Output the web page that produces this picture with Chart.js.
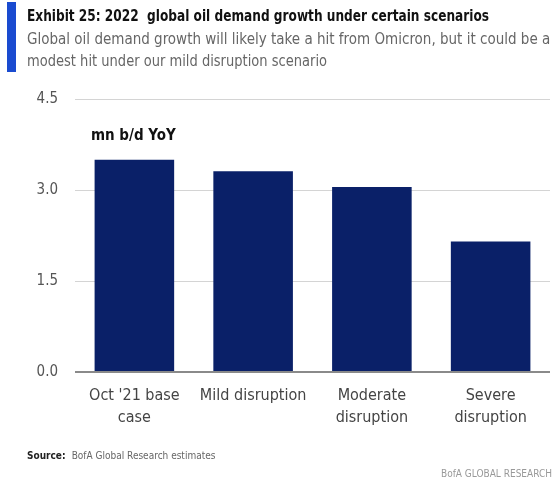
<!DOCTYPE html>
<html>
<head>
<meta charset="utf-8">
<script src="https://cdn.jsdelivr.net/npm/chart.js@4.4.1/dist/chart.umd.min.js"></script>
<style>
  html, body { margin: 0; padding: 0; background: #fff; }
  #wrap { position: relative; width: 560px; height: 483px; }
</style>
</head>
<body>
<div id="wrap"><canvas id="demand-chart" width="560" height="483"></canvas></div>
<script>
// 2022 global oil demand growth by scenario (mn b/d YoY)
const scenarios = [["Oct '21 base", 'case'], 'Mild disruption', ['Moderate', 'disruption'], ['Severe', 'disruption']];
const demandGrowth = [3.5, 3.31, 3.05, 2.15];
const yTicks = [0, 1.5, 3.0, 4.5];

const FONT = "'Liberation Sans Narrow', 'DejaVu Sans Condensed', 'Liberation Sans', sans-serif";

// header, unit label and footer drawn straight on the canvas
const decorations = {
  id: 'decorations',
  afterDraw(chart) {
    const ctx = chart.ctx;
    ctx.save();
    ctx.fillStyle = '#1a4bd0';
    ctx.fillRect(7, 2, 9, 70);

    ctx.textBaseline = 'alphabetic';
    ctx.textAlign = 'left';
    ctx.fillStyle = '#111';
    ctx.font = `bold 15px ${FONT}`;
    ctx.fillText('Exhibit 25: 2022  global oil demand growth under certain scenarios', 27, 21, 462);

    ctx.fillStyle = '#666';
    ctx.font = `15px ${FONT}`;
    ctx.fillText('Global oil demand growth will likely take a hit from Omicron, but it could be a', 27, 44, 527);
    ctx.fillText('modest hit under our mild disruption scenario', 27, 66, 300);

    ctx.fillStyle = '#111';
    ctx.font = `bold 15px ${FONT}`;
    ctx.fillText('mn b/d YoY', 91, 140);

    ctx.font = `bold 10px ${FONT}`;
    ctx.fillStyle = '#222';
    ctx.fillText('Source:', 27, 459);
    const w = ctx.measureText('Source: ').width;
    ctx.font = `10px ${FONT}`;
    ctx.fillStyle = '#666';
    ctx.fillText('BofA Global Research estimates', 27 + w + 3, 459);

    ctx.textAlign = 'right';
    ctx.fillStyle = '#999';
    ctx.fillText('BofA GLOBAL RESEARCH', 552, 477);
    ctx.restore();
  }
};

new Chart(document.getElementById('demand-chart'), {
  type: 'bar',
  data: {
    labels: scenarios,
    datasets: [{
      data: demandGrowth,
      backgroundColor: '#0a2068',
      borderWidth: 0,
      barPercentage: 0.67,
      categoryPercentage: 1,
    }],
  },
  options: {
    responsive: false,
    animation: false,
    layout: { padding: { top: 99, right: 10, left: 0, bottom: 0 } },
    plugins: {
      legend: { display: false },
      tooltip: { enabled: false },
    },
    scales: {
      x: {
        afterFit: s => { s.height = 111; },
        grid: { display: false, drawTicks: false },
        border: { display: false },
        ticks: {
          padding: 13,
          color: '#444',
          font: { family: FONT, size: 16, lineHeight: 1.38 },
          maxRotation: 0,
          autoSkip: false,
        },
      },
      y: {
        min: 0,
        max: 4.5,
        afterFit: s => { s.width = 75; },
        afterBuildTicks: s => { s.ticks = yTicks.map(v => ({ value: v })); },
        grid: {
          drawTicks: false,
          color: c => (c.tick && c.tick.value === 0 ? '#8a8a8a' : '#d4d4d4'),
          lineWidth: c => (c.tick && c.tick.value === 0 ? 2 : 1),
        },
        border: { display: false },
        ticks: {
          padding: 17,
          color: '#555',
          font: { family: FONT, size: 15 },
          callback: v => v.toFixed(1),
        },
      },
    },
  },
  plugins: [decorations],
});
</script>
</body>
</html>
